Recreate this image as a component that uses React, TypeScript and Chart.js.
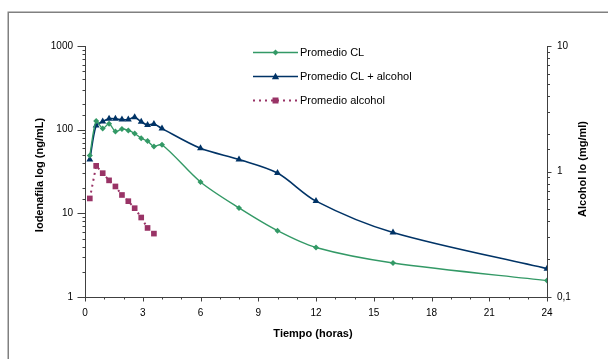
import React, { useEffect, useRef } from 'react';
import { Chart, registerables } from 'chart.js';

Chart.register(...registerables);

// ---- data ----
const timesH = [0.25, 0.58, 0.92, 1.25, 1.58, 1.92, 2.25, 2.58, 2.92, 3.25, 3.58, 4, 6, 8, 10, 12, 16, 24];
const alcoholTimesH = [0.25, 0.58, 0.92, 1.25, 1.58, 1.92, 2.25, 2.58, 2.92, 3.25, 3.58];
const clValues = [49, 127, 103, 118, 95, 102, 98, 90, 79, 73, 63, 66, 23.7, 11.6, 6.2, 3.9, 2.55, 1.57];
const clAlcoholValues = [44, 112, 125, 135, 135, 132, 132, 141, 124, 114, 117, 103, 59.8, 44, 30.3, 14, 5.9, 2.18];
const alcoholValues = [0.61, 1.11, 0.97, 0.85, 0.76, 0.65, 0.58, 0.51, 0.43, 0.355, 0.32];
const seriesLabels = ['Promedio CL', 'Promedio CL + alcohol', 'Promedio alcohol'];
const xTitle = 'Tiempo (horas)';
const yTitle = 'Iodenafila log (ng/mL)';
const y1Title = 'Alcohol lo (mg/ml)';
const xMin = 0;
const xMax = 24;
const xStep = 3;
const yMin = 1;
const yMax = 1000;
const y1Min = 0.1;
const y1Max = 10;

const FONT = "'Liberation Sans', Arial, sans-serif";
const GREEN = '#339966';
const BLUE = '#003366';
const PINK = '#993366';
const AXIS = '#404040';

const isPow10 = (v: number) => Math.abs(Math.log10(v) - Math.round(Math.log10(v))) < 1e-6;

function drawMarker(ctx: CanvasRenderingContext2D, style: string, x: number, y: number, r: number, color: string) {
  ctx.save();
  ctx.fillStyle = color;
  ctx.setLineDash([]);
  ctx.beginPath();
  if (style === 'rectRot') {
    ctx.moveTo(x, y - r);
    ctx.lineTo(x + r, y);
    ctx.lineTo(x, y + r);
    ctx.lineTo(x - r, y);
  } else if (style === 'triangle') {
    ctx.moveTo(x, y - r);
    ctx.lineTo(x + r * 0.95, y + r * 0.7);
    ctx.lineTo(x - r * 0.95, y + r * 0.7);
  } else {
    ctx.rect(x - r * 0.75, y - r * 0.75, r * 1.5, r * 1.5);
  }
  ctx.closePath();
  ctx.fill();
  ctx.restore();
}

const decorPlugin = {
  id: 'decor',
  beforeDraw(chart: any) {
    const ctx: CanvasRenderingContext2D = chart.ctx;
    ctx.save();
    ctx.fillStyle = '#ffffff';
    ctx.fillRect(0, 0, chart.width, chart.height);
    ctx.strokeStyle = '#808080';
    ctx.lineWidth = 1.5;
    ctx.beginPath();
    ctx.moveTo(8.25, chart.height);
    ctx.lineTo(8.25, 12.25);
    ctx.lineTo(chart.width, 12.25);
    ctx.stroke();
    ctx.restore();
  },
  afterDraw(chart: any) {
    const ctx: CanvasRenderingContext2D = chart.ctx;
    const a = chart.chartArea;
    const sx = chart.scales.x;
    const sy = chart.scales.y;
    const sy1 = chart.scales.y1;
    ctx.save();
    ctx.strokeStyle = AXIS;
    ctx.lineWidth = 1;
    const L = Math.round(a.left) + 0.5;
    const R = Math.round(a.right) + 0.5;
    const B = Math.round(a.bottom) + 0.5;
    const T = Math.round(a.top);
    ctx.beginPath();
    ctx.moveTo(L, T); ctx.lineTo(L, B);
    ctx.moveTo(L - 0.5, B); ctx.lineTo(R + 0.5, B);
    ctx.moveTo(R, T); ctx.lineTo(R, B);
    // left ticks
    sy.ticks.forEach((t: any) => {
      const y = Math.round(sy.getPixelForValue(t.value)) + 0.5;
      const len = isPow10(t.value) ? 8 : 3;
      ctx.moveTo(L - len, y); ctx.lineTo(L, y);
    });
    // right ticks
    sy1.ticks.forEach((t: any) => {
      const y = Math.round(sy1.getPixelForValue(t.value)) + 0.5;
      const len = isPow10(t.value) ? 4 : 2.5;
      ctx.moveTo(R, y); ctx.lineTo(R + len, y);
    });
    // x ticks
    for (let h = xMin; h <= xMax; h += 1) {
      const x = Math.round(sx.getPixelForValue(h)) + 0.5;
      const len = h % xStep === 0 ? 4 : 2;
      ctx.moveTo(x, B); ctx.lineTo(x, B + len);
    }
    ctx.stroke();

    // axis titles
    ctx.fillStyle = '#000';
    ctx.font = `bold 11px ${FONT}`;
    ctx.textAlign = 'center';
    ctx.textBaseline = 'middle';
    ctx.fillText(xTitle, 313, 334);
    ctx.save();
    ctx.translate(39.5, 175);
    ctx.rotate(-Math.PI / 2);
    ctx.fillText(yTitle, 0, 0);
    ctx.restore();
    ctx.save();
    ctx.translate(583, 169);
    ctx.rotate(-Math.PI / 2);
    ctx.fillText(y1Title, 0, 0);
    ctx.restore();

    // legend
    const rows = [52.5, 76.5, 100.5];
    chart.data.datasets.forEach((ds: any, i: number) => {
      const y = rows[i];
      ctx.save();
      ctx.strokeStyle = ds.borderColor;
      ctx.lineWidth = ds.borderWidth;
      ctx.setLineDash(ds.borderDash || []);
      ctx.beginPath();
      ctx.moveTo(253, y);
      ctx.lineTo(298, y);
      ctx.stroke();
      ctx.restore();
      drawMarker(ctx, ds.pointStyle, 275.5, y, ds.pointStyle === 'rect' ? 4 : ds.pointStyle === 'triangle' ? 3.8 : 3, ds.backgroundColor);
      ctx.fillStyle = '#000';
      ctx.font = `11px ${FONT}`;
      ctx.textAlign = 'left';
      ctx.textBaseline = 'middle';
      ctx.fillText(ds.label, 300, y);
    });
    ctx.restore();
  },
};

export default function App() {
  const ref = useRef<HTMLCanvasElement | null>(null);
  useEffect(() => {
    if (!ref.current) return;
    Chart.defaults.font.family = FONT;
    const chart = new Chart(ref.current, {
      type: 'line',
      data: {
        datasets: [
          {
            label: seriesLabels[0],
            data: timesH.map((t, i) => ({ x: t, y: clValues[i] })),
            yAxisID: 'y',
            borderColor: GREEN,
            backgroundColor: GREEN,
            borderWidth: 1.4,
            pointStyle: 'rectRot',
            pointRadius: 3,
            pointBorderWidth: 0,
            tension: 0.3,
          },
          {
            label: seriesLabels[1],
            data: timesH.map((t, i) => ({ x: t, y: clAlcoholValues[i] })),
            yAxisID: 'y',
            borderColor: BLUE,
            backgroundColor: BLUE,
            borderWidth: 1.6,
            pointStyle: 'triangle',
            pointRadius: 4,
            pointBorderWidth: 0,
            tension: 0.3,
          },
          {
            label: seriesLabels[2],
            data: alcoholTimesH.map((t, i) => ({ x: t, y: alcoholValues[i] })),
            yAxisID: 'y1',
            borderColor: PINK,
            backgroundColor: PINK,
            borderWidth: 2,
            borderDash: [2, 4],
            pointStyle: 'rect',
            pointRadius: 4,
            pointBorderWidth: 0,
            tension: 0,
          },
        ] as any,
      },
      options: {
        animation: false,
        responsive: false,
        devicePixelRatio: 1,
        layout: { padding: { top: 46, left: 0, right: 0, bottom: 0 } },
        plugins: { legend: { display: false }, tooltip: { enabled: false } },
        scales: {
          x: {
            type: 'linear',
            min: xMin,
            max: xMax,
            grid: { display: false, drawTicks: false },
            border: { display: false },
            ticks: { stepSize: xStep, padding: 10, color: '#000', font: { size: 10 } },
            afterFit(s: any) { s.height = 62; },
          },
          y: {
            type: 'logarithmic',
            position: 'left',
            min: yMin,
            max: yMax,
            grid: { display: false, drawTicks: false },
            border: { display: false },
            ticks: {
              autoSkip: false,
              padding: 12,
              color: '#000',
              font: { size: 10 },
              callback: (v: any) => (isPow10(Number(v)) ? String(v) : ''),
            },
            afterFit(s: any) { s.width = 85; },
          },
          y1: {
            type: 'logarithmic',
            position: 'right',
            min: y1Min,
            max: y1Max,
            grid: { display: false, drawTicks: false },
            border: { display: false },
            ticks: {
              autoSkip: false,
              padding: 10,
              color: '#000',
              font: { size: 10 },
              callback: (v: any) => (isPow10(Number(v)) ? String(v).replace('.', ',') : ''),
            },
            afterFit(s: any) { s.width = 61; },
          },
        },
      } as any,
      plugins: [decorPlugin],
    });
    return () => chart.destroy();
  }, []);
  return (
    <div style={{ position: 'absolute', left: 0, top: 0, width: 608, height: 359 }}>
      <canvas ref={ref} width={608} height={359} style={{ display: 'block', width: 608, height: 359 }} />
    </div>
  );
}
